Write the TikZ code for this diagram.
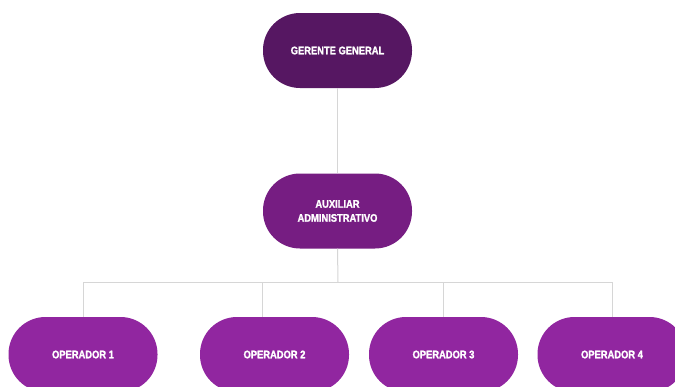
\documentclass[tikz,border=0pt]{standalone}
\usepackage{fontspec}
\newfontfamily\lblfont[FakeStretch=0.85,FakeBold=1.5]{Liberation Sans Bold}
\definecolor{topc}{HTML}{561762}
\definecolor{midc}{HTML}{761D82}
\definecolor{botc}{HTML}{9126A0}
\definecolor{linec}{HTML}{D6D6D6}
\tikzset{
  pill/.style={minimum width=149pt, minimum height=75pt, rounded corners=37pt,
    text=white, font=\lblfont\fontsize{11}{14}\selectfont, align=center, inner sep=0pt},
  conn/.style={draw=linec, line width=1pt}
}
\begin{document}
\begin{tikzpicture}[x=1pt,y=-1pt]
\useasboundingbox (0,0) rectangle (675,386);
\clip (0,0) rectangle (675,386);
\fill[white] (0,0) rectangle (675,386);
\node[pill, fill=topc] (gg) at (337.5,50.5) {GERENTE GENERAL};
\node[pill, fill=midc] (aux) at (337.5,211) {AUXILIAR\\ADMINISTRATIVO};
\node[pill, fill=botc] (o1) at (83,354.5) {OPERADOR 1};
\node[pill, fill=botc] (o2) at (274.5,354.5) {OPERADOR 2};
\node[pill, fill=botc] (o3) at (443.5,354.5) {OPERADOR 3};
\node[pill, fill=botc] (o4) at (612,354.5) {OPERADOR 4};
\coordinate (j) at (338,282);
\coordinate (d2) at (262,282);
\draw[conn] (gg.south) -- (aux.north);
\draw[conn] (aux.south) -- (j);
\draw[conn] (o1.north) |- (j);
\draw[conn] (o4.north) |- (j);
\draw[conn] (o2.north -| d2) -- (d2);
\draw[conn] (o3.north) -- (o3.north |- j);
\end{tikzpicture}
\end{document}
